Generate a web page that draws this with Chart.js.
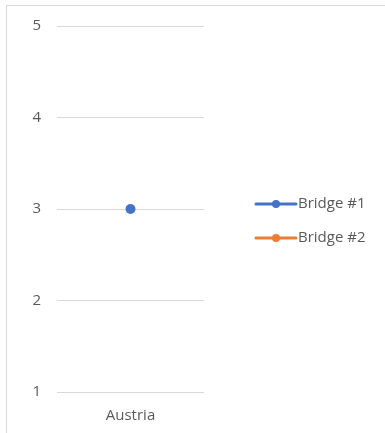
<!DOCTYPE html>
<html>
<head>
<meta charset="utf-8">
<script src="https://cdn.jsdelivr.net/npm/chart.js@4"></script>
<style>
  html, body { margin: 0; padding: 0; background: #fff; }
  #wrap { position: relative; width: 385px; height: 433px; overflow: hidden; }
  #frame { position: absolute; left: 6px; top: 5px; width: 400px; height: 450px; border: 1px solid #d9d9d9; }
  canvas { position: absolute; left: 0; top: 0; }
</style>
</head>
<body>
<div id="wrap">
  <div id="frame"></div>
  <canvas id="chart" width="385" height="433"></canvas>
</div>
<script>
// Datos del gráfico
const categories = ["Austria"];
const bridge1 = [3];
const bridge2 = [null];
const seriesNames = ["Bridge #1", "Bridge #2"];
const seriesColors = ["#4472C4", "#ED7D31"];
const yTicks = [1, 2, 3, 4, 5];

const textColor = "#595959";
const fontFamily = "'Open Sans', 'Liberation Sans', sans-serif";

// Leyenda al estilo Excel: línea con marcador
const excelLegend = {
  id: "excelLegend",
  afterDraw(chart) {
    const ctx = chart.ctx;
    const x0 = 256, x1 = 296, yStart = 204, step = 34;
    chart.data.datasets.forEach((ds, i) => {
      const y = yStart + i * step;
      ctx.save();
      ctx.strokeStyle = ds.borderColor;
      ctx.lineWidth = 3;
      ctx.lineCap = "round";
      ctx.beginPath();
      ctx.moveTo(x0, y);
      ctx.lineTo(x1, y);
      ctx.stroke();
      ctx.fillStyle = ds.backgroundColor;
      ctx.beginPath();
      ctx.arc((x0 + x1) / 2, y, 4, 0, Math.PI * 2);
      ctx.fill();
      ctx.fillStyle = textColor;
      ctx.font = "15px " + fontFamily;
      ctx.textBaseline = "middle";
      ctx.textAlign = "left";
      ctx.fillText(ds.label, x1 + 2, y);
      ctx.restore();
    });
  }
};

new Chart(document.getElementById("chart"), {
  type: "line",
  data: {
    labels: categories,
    datasets: [
      {
        label: seriesNames[0],
        data: bridge1,
        borderColor: seriesColors[0],
        backgroundColor: seriesColors[0],
        borderWidth: 3,
        pointRadius: 5,
        pointBorderWidth: 0
      },
      {
        label: seriesNames[1],
        data: bridge2,
        borderColor: seriesColors[1],
        backgroundColor: seriesColors[1],
        borderWidth: 3,
        pointRadius: 5,
        pointBorderWidth: 0
      }
    ]
  },
  options: {
    responsive: false,
    animation: false,
    layout: { padding: { left: 7, right: 181, top: 26, bottom: 11 } },
    plugins: { legend: { display: false }, tooltip: { enabled: false } },
    scales: {
      x: {
        offset: true,
        grid: { display: false, drawTicks: false },
        border: { display: false },
        ticks: { color: textColor, font: { family: fontFamily, size: 15 }, padding: 15 },
        afterFit: s => { s.height = 30; }
      },
      y: {
        min: yTicks[0],
        max: yTicks[yTicks.length - 1],
        afterBuildTicks: s => { s.ticks = yTicks.map(v => ({ value: v })); },
        grid: { color: "#d9d9d9", drawTicks: false },
        border: { display: false },
        ticks: { color: textColor, font: { family: fontFamily, size: 15 }, padding: 16 },
        afterFit: s => { s.width = 50; }
      }
    }
  },
  plugins: [excelLegend]
});
</script>
</body>
</html>
